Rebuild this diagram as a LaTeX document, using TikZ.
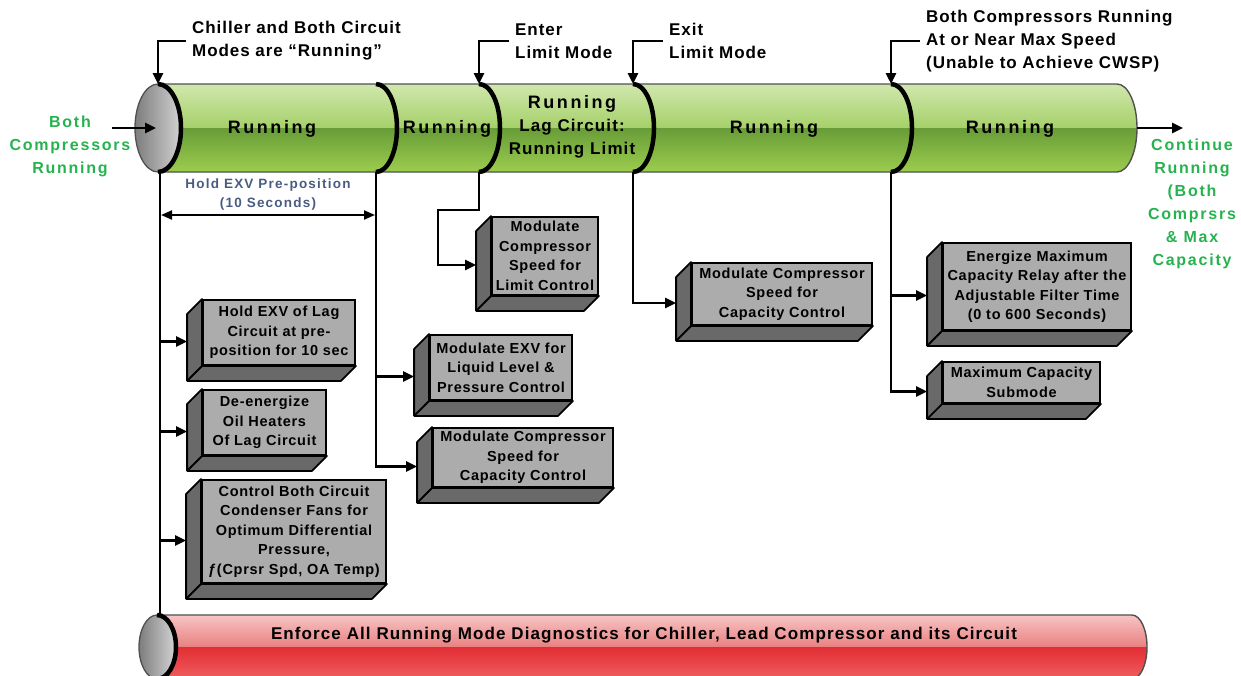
\documentclass[tikz,border=0pt]{standalone}
\usepackage{fontspec}
\setmainfont{Liberation Sans}
\newfontfamily\fHead{Liberation Sans}[LetterSpace=5.5]
\newfontfamily\fBox{Liberation Sans}[LetterSpace=5]
\newfontfamily\fRun{Liberation Sans}[LetterSpace=14]
\newfontfamily\fLag{Liberation Sans}[LetterSpace=6.5]
\newfontfamily\fGreen{Liberation Sans}[LetterSpace=11]
\newfontfamily\fBlue{Liberation Sans}[LetterSpace=9]
\newfontfamily\fRed{Liberation Sans}[LetterSpace=6.5]
\newcommand\headfont{\fHead\bfseries\fontsize{17}{23}\selectfont}
\newcommand\boxfont{\fBox\bfseries\fontsize{14.5}{19.5}\selectfont}
\newcommand\runfont{\fRun\bfseries\fontsize{18}{23}\selectfont}
\newcommand\lagfont{\fLag\bfseries\fontsize{17}{23}\selectfont}
\newcommand\greenfont{\fGreen\bfseries\fontsize{16}{23}\selectfont}
\newcommand\bluefont{\fBlue\bfseries\fontsize{13.5}{19}\selectfont}
\newcommand\redfont{\fRed\bfseries\fontsize{17}{20}\selectfont}
\usetikzlibrary{arrows.meta}
\definecolor{gTop}{RGB}{210,232,175}
\definecolor{gUpBot}{RGB}{165,208,105}
\definecolor{gLoTop}{RGB}{104,156,56}
\definecolor{gBot}{RGB}{158,206,78}
\definecolor{rTop}{RGB}{248,198,198}
\definecolor{rUpBot}{RGB}{233,128,128}
\definecolor{rLoTop}{RGB}{226,45,52}
\definecolor{rBot}{RGB}{240,96,96}
\definecolor{capL}{RGB}{125,125,125}
\definecolor{capR}{RGB}{210,210,210}
\definecolor{faceG}{RGB}{172,172,172}
\definecolor{sideG}{RGB}{105,105,105}
\definecolor{txtGreen}{RGB}{38,178,78}
\definecolor{txtBlue}{RGB}{72,92,130}
\definecolor{rimG}{RGB}{80,80,80}

\newcommand\cbox[6]{%
  \node[face, minimum width=#4pt, minimum height=#5pt] (#1) at (#2,#3) {#6};
  \filldraw[side] (#1.north west) -- ++(-15pt,-15pt)
     -- ([shift={(-15pt,-15pt)}]#1.south west)
     -- ([shift={(-15pt,-15pt)}]#1.south east)
     -- (#1.south east) -- (#1.south west) -- cycle;
  \draw[side] (#1.south west) -- ++(-15pt,-15pt);
  \coordinate (#1s) at ([xshift=-15pt,yshift=-9pt]#1.west);
}

\begin{document}
\begin{tikzpicture}[x=1pt,y=-1pt,
  conn/.style={line width=2.6pt},
  arr/.style={conn, -{Triangle[length=11pt,width=10pt]}},
  dimarr/.style={line width=2pt, {Triangle[length=11pt,width=9pt]}-{Triangle[length=11pt,width=9pt]}},
  face/.style={draw=black, line width=1.8pt, fill=faceG, inner sep=0pt, align=center, font=\boxfont},
  side/.style={fill=sideG, draw=black, line width=1.8pt, line join=round},
  divider/.style={line width=4.5pt},
  runlbl/.style={font=\runfont, anchor=base, inner sep=0pt},
  head/.style={font=\headfont, align=left, anchor=west, inner sep=0pt},
  greenlbl/.style={font=\greenfont, text=txtGreen, align=center, inner sep=0pt},
]
\useasboundingbox (0,0) rectangle (1241,675);

% ---------- green cylinder ----------
\begin{scope}
  \clip (158,84) -- (1117,84) arc[start angle=-90,end angle=90,x radius=20,y radius=44] -- (158,172) -- cycle;
  \shade[top color=gTop,bottom color=gUpBot] (130,83) rectangle (1140,128);
  \shade[top color=gLoTop,bottom color=gBot] (130,128) rectangle (1140,173);
\end{scope}
\draw[line width=1.4pt, draw=rimG] (158,84) -- (1117,84) arc[start angle=-90,end angle=90,x radius=20,y radius=44] -- (158,172);
\shade[left color=capL,right color=capR] (158,128) ellipse[x radius=23,y radius=44];
\draw[line width=1.3pt, draw=rimG] (158,128) ellipse[x radius=23,y radius=44];
\draw[divider] (158,84) arc[start angle=-90,end angle=90,x radius=23,y radius=44];
\foreach \xx in {376,479,633,891}
  \draw[divider] (\xx,84) arc[start angle=-90,end angle=90,x radius=21,y radius=44];

\node[runlbl] (r1) at (272,133) {Running};
\node[runlbl] (r2) at (447,133) {Running};
\node[font=\lagfont, align=center, inner sep=0pt] (r3) at (572,127) {{\runfont Running}\\Lag Circuit:\\Running Limit};
\node[runlbl] (r4) at (774,133) {Running};
\node[runlbl] (r5) at (1010,133) {Running};

% ---------- red cylinder ----------
\begin{scope}
  \clip (0,0) rectangle (1241,675);
  \begin{scope}
    \clip (157,615) -- (1132,615) arc[start angle=-90,end angle=90,x radius=15,y radius=32] -- (157,679) -- cycle;
    \shade[top color=rTop,bottom color=rUpBot] (130,614) rectangle (1150,647);
    \shade[top color=rLoTop,bottom color=rBot] (130,647) rectangle (1150,680);
  \end{scope}
  \draw[line width=1.4pt, draw=rimG] (157,615) -- (1132,615) arc[start angle=-90,end angle=90,x radius=15,y radius=32] -- (157,679);
  \shade[left color=capL,right color=capR] (157,647) ellipse[x radius=18,y radius=32];
  \draw[line width=1.3pt, draw=rimG] (157,647) ellipse[x radius=18,y radius=32];
  \draw[divider] (157,615) arc[start angle=-90,end angle=90,x radius=19,y radius=32];
\end{scope}
\node[font=\redfont, anchor=base, inner sep=0pt] (enf) at (644,639) {Enforce All Running Mode Diagnostics for Chiller, Lead Compressor and its Circuit};

% ---------- key points ----------
\coordinate (d0t) at (158,84);  \coordinate (d0b) at (160,172);
\coordinate (d1t) at (376,84);  \coordinate (d1b) at (376,172);
\coordinate (d2t) at (479,84);  \coordinate (d2b) at (479,172);
\coordinate (d3t) at (633,84);  \coordinate (d3b) at (633,172);
\coordinate (d4t) at (891,84);  \coordinate (d4b) at (891,172);
\coordinate (rT) at (160,616);
\coordinate (k1) at (438,210);
\coordinate (inL) at (112,128);  \coordinate (capC) at (156,128);
\coordinate (gEnd) at (1137,128); \coordinate (outR) at (1183,128);
\coordinate (dimL) at (161,215); \coordinate (dimR) at (375,215);

% ---------- headings ----------
\node[head] (hChill) at (192,41) {Chiller and Both Circuit\\Modes are “Running”};
\node[head] (hEnter) at (515,41) {Enter\\Limit Mode};
\node[head] (hExit) at (669,41) {Exit\\Limit Mode};
\node[head] (hMax) at (926,41) {Both Compressors Running\\At or Near Max Speed\\(Unable to Achieve CWSP)};
\draw[arr] ([xshift=-6pt]hChill.west) -| (d0t);
\draw[arr] ([xshift=-6pt]hEnter.west) -| (d2t);
\draw[arr] ([xshift=-6pt]hExit.west) -| (d3t);
\draw[arr] ([xshift=-6pt]hMax.west) -| (d4t);

\node[greenlbl] (gLeft) at (70,146) {Both\\Compressors\\Running};
\node[greenlbl] (gRight) at (1192,203.5) {Continue\\Running\\(Both\\Comprsrs\\\& Max\\Capacity};
\draw[arr] (inL) -- (capC);
\draw[arr] (gEnd) -- (outR);

\node[font=\bluefont, text=txtBlue, align=center, inner sep=0pt] (hold) at (268,195) {Hold EXV Pre-position\\(10 Seconds)};
\draw[dimarr] (dimL) -- (dimR);

% ---------- boxes ----------
\cbox{b1}{279}{332.5}{152}{65}{Hold EXV of Lag\\Circuit at pre-\\position for 10 sec}
\cbox{b2}{264.5}{422.5}{123}{65}{De-energize\\Oil Heaters\\Of Lag Circuit}
\cbox{b3}{294}{531.5}{184}{103}{Control Both Circuit\\Condenser Fans for\\Optimum Differential\\Pressure,\\ƒ(Cprsr Spd, OA Temp)}
\cbox{b4}{501}{367.5}{142}{65}{Modulate EXV for\\Liquid Level \&\\Pressure Control}
\cbox{b5}{523}{457.5}{180}{59}{Modulate Compressor\\Speed for\\Capacity Control}
\cbox{b6}{545}{256}{106}{78}{Modulate\\Compressor\\Speed for\\Limit Control}
\cbox{b7}{782}{294}{180}{62}{Modulate Compressor\\Speed for\\Capacity Control}
\cbox{b8}{1037}{286.5}{188}{87}{Energize Maximum\\Capacity Relay after the\\Adjustable Filter Time\\(0 to 600 Seconds)}
\cbox{b9}{1021.5}{382.5}{157}{41}{Maximum Capacity\\Submode}

% ---------- connectors ----------
\draw[conn] (d0b) -- (rT);
\draw[arr] (d0b |- b1s) -- (b1s);
\draw[arr] (d0b |- b2s) -- (b2s);
\draw[arr] (d0b |- b3s) -- (b3s);
\draw[arr] (d1b) |- (b5s);
\draw[arr] (d1b |- b4s) -- (b4s);
\draw[arr] (d2b) |- (k1) |- (b6s);
\draw[arr] (d3b) |- (b7s);
\draw[arr] (d4b) |- (b9s);
\draw[arr] (d4b |- b8s) -- (b8s);
\end{tikzpicture}
\end{document}
